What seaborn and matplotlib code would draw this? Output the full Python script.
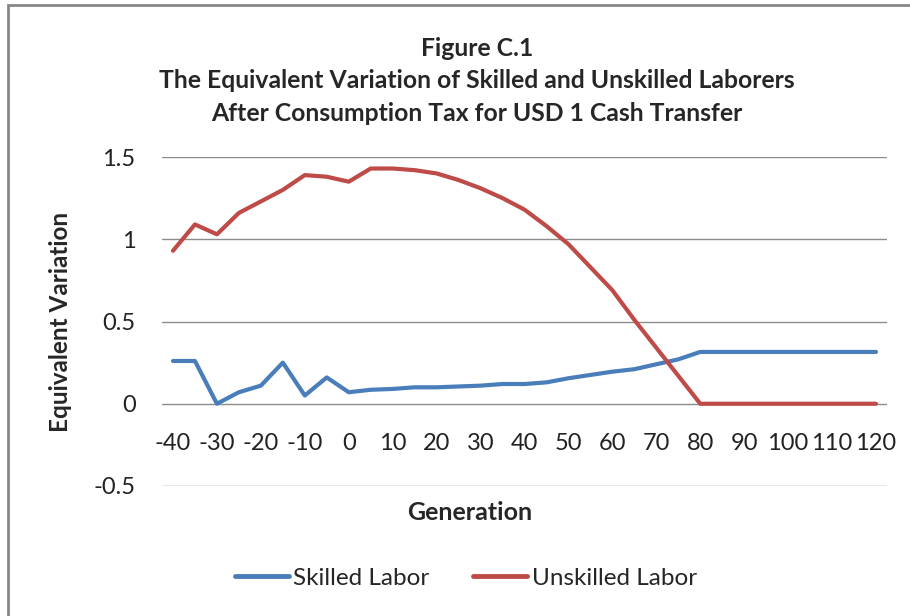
import numpy as np
import pandas as pd
import matplotlib.pyplot as plt
import seaborn as sns
from matplotlib.patches import Rectangle

sns.set_style("white")
plt.rcParams['font.family'] = ['Lato', 'DejaVu Sans']

generation = list(range(-40, 125, 5))
skilled = [0.26, 0.26, 0.00, 0.07, 0.11, 0.25, 0.05, 0.16, 0.07, 0.085, 0.09,
           0.10, 0.10, 0.105, 0.11, 0.12, 0.12, 0.13, 0.155, 0.175, 0.195, 0.21,
           0.24, 0.27, 0.315, 0.315, 0.315, 0.315, 0.315, 0.315, 0.315, 0.315, 0.315]
unskilled = [0.93, 1.09, 1.03, 1.16, 1.23, 1.30, 1.39, 1.38, 1.35, 1.43, 1.43,
             1.42, 1.40, 1.36, 1.31, 1.25, 1.18, 1.08, 0.97, 0.83, 0.69, 0.51,
             0.34, 0.17, 0.0, 0.0, 0.0, 0.0, 0.0, 0.0, 0.0, 0.0, 0.0]
series = ["Skilled Labor", "Unskilled Labor"]
colors = ["#4A7EBB", "#BE4B48"]
xticks = list(range(-40, 121, 10))
yticks = [-0.5, 0, 0.5, 1, 1.5]

df = pd.DataFrame({
    "Generation": generation * 2,
    "EV": skilled + unskilled,
    "Series": [series[0]] * len(generation) + [series[1]] * len(generation),
})

fig = plt.figure(figsize=(9.1, 6.16), dpi=100)
ax = fig.add_axes([162 / 910, 1 - 486 / 616, 725 / 910, 329 / 616])

sns.lineplot(data=df, x="Generation", y="EV", hue="Series", palette=colors,
             linewidth=3, ax=ax, legend=False, zorder=3)

ax.set_xlim(-42.5, 122.5)
ax.set_ylim(-0.5, 1.5)
ax.set_yticks(yticks)
ax.set_yticklabels(["-0.5", "0", "0.5", "1", "1.5"])
ax.set_xticks(xticks)
ax.set_xticklabels([str(t) for t in xticks])
ax.grid(axis="y", color="#8c8c8c", linewidth=1)
ax.grid(axis="x", visible=False)
for s in ax.spines.values():
    s.set_visible(False)
# category axis sits on the zero line
ax.spines['bottom'].set_position(('data', 0))
ax.tick_params(axis="x", length=0, pad=21, labelsize=17, colors="#222222")
ax.tick_params(axis="y", length=0, pad=19, labelsize=17, colors="#222222")
ax.set_xlabel("")
ax.set_ylabel("")

fig.text(60 / 910, 1 - 322 / 616, "Equivalent Variation", rotation=90,
         ha="center", va="center", fontsize=17.5, fontweight="bold")
fig.text(470 / 910, 1 - 512 / 616, "Generation", ha="center", va="center",
         fontsize=18, fontweight="bold")
fig.text(477 / 910, 1 - 81 / 616,
         "Figure C.1\nThe Equivalent Variation of Skilled and Unskilled Laborers\n"
         "After Consumption Tax for USD 1 Cash Transfer",
         ha="center", va="center", fontsize=17.8, fontweight="bold",
         linespacing=1.52)

handles = [plt.Line2D([], [], color=c, linewidth=3.5) for c in colors]
fig.legend(handles, series, loc="center", bbox_to_anchor=(466 / 910, 1 - 578 / 616),
           ncol=2, frameon=False, fontsize=17.5, handlelength=2.2,
           handletextpad=0.2, columnspacing=1.8)

fig.patches.append(Rectangle((8 / 910, -0.05), 1.1, 1 - 5 / 616 + 0.05,
                             transform=fig.transFigure, fill=False,
                             edgecolor="#888888", linewidth=2))

plt.savefig("out.png", dpi=100)
